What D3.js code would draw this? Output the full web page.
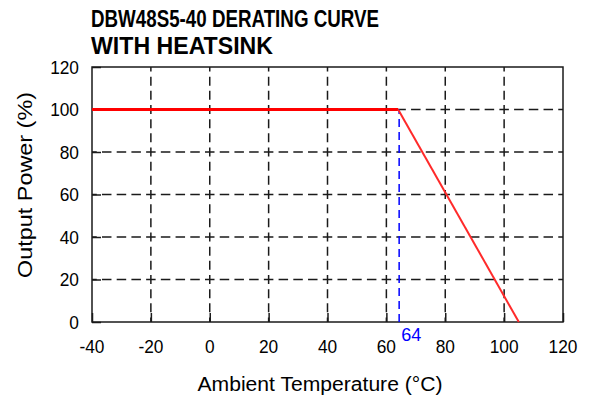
<!DOCTYPE html>
<html lang="en">
<head>
<meta charset="utf-8">
<title>DBW48S5-40 Derating Curve</title>
<script src="https://d3js.org/d3.v7.min.js"></script>
<style>
  body { margin: 0; background: #fff; }
  text { font-family: Arial, "Liberation Sans", sans-serif; }
</style>
</head>
<body>
<svg class="chart"></svg>

<script>
//data
var titleLines = ["DBW48S5-40 DERATING CURVE", "WITH HEATSINK"];
var xTicks = [-40, -20, 0, 20, 40, 60, 80, 100, 120];
var yTicks = [0, 20, 40, 60, 80, 100, 120];
var curveTemp = [-40, 64, 105];
var curvePower = [100, 100, 0];
var kneeTemp = 64;
var xLabel = "Ambient Temperature (°C)";
var yLabel = "Output Power (%)";

var width = 593;
var height = 398;
var plot = {left: 92, right: 563, top: 67, bottom: 322};

var svg = d3.select(".chart")
    .attr("width", width)
    .attr("height", height);

var x = d3.scaleLinear().domain([-40, 120]).range([plot.left, plot.right]);
var y = d3.scaleLinear().domain([0, 120]).range([plot.bottom, plot.top]);

//squeeze text horizontally, the source font is narrow
function squeeze(sel, k) {
  sel.each(function() {
    var w = this.getComputedTextLength();
    d3.select(this).attr("textLength", w * k).attr("lengthAdjust", "spacingAndGlyphs");
  });
}

//title
svg.selectAll(".title")
  .data(titleLines)
  .enter().append("text")
    .attr("class", "title")
    .attr("x", 91)
    .attr("y", function(d, i) { return 27 + i * 27; })
    .attr("font-size", "23px")
    .attr("font-weight", "bold")
    .attr("fill", "#000")
    .attr("textLength", function(d, i) { return i === 0 ? 288 : 182; })
    .attr("lengthAdjust", "spacingAndGlyphs")
    .text(function(d) { return d; });

//dashed grid, dashes centred on each crossing
var hCell = x(-20) - x(-40);
var vCell = y(0) - y(20);
var grid = svg.append("g").attr("class", "grid")
    .attr("stroke", "#1a1a1a").attr("stroke-width", 1.5);

grid.selectAll(".hgrid")
  .data(yTicks.slice(1, -1))
  .enter().append("line")
    .attr("x1", plot.left).attr("x2", plot.right)
    .attr("y1", function(d) { return y(d); })
    .attr("y2", function(d) { return y(d); })
    .attr("stroke-dasharray", "9.5," + (hCell / 4 - 9.5))
    .attr("stroke-dashoffset", 4.75);

grid.selectAll(".vgrid")
  .data(xTicks.slice(1, -1))
  .enter().append("line")
    .attr("x1", function(d) { return x(d); })
    .attr("x2", function(d) { return x(d); })
    .attr("y1", plot.bottom).attr("y2", plot.top)
    .attr("stroke-dasharray", "9," + (vCell / 3 - 9))
    .attr("stroke-dashoffset", 4.5);

//axes with inward ticks
svg.append("g")
    .attr("transform", "translate(0," + plot.bottom + ")")
    .call(d3.axisTop(x).tickValues(xTicks).tickSize(9).tickFormat(""));
svg.append("g")
    .attr("transform", "translate(" + plot.left + ",0)")
    .call(d3.axisRight(y).tickValues(yTicks).tickSize(9).tickFormat(""));
svg.selectAll(".domain").remove();
svg.selectAll(".tick line").attr("stroke", "#1a1a1a").attr("stroke-width", 1.5);

//tick labels
svg.selectAll(".xlab")
  .data(xTicks)
  .enter().append("text")
    .attr("class", "xlab")
    .attr("x", function(d) { return x(d); })
    .attr("y", 353)
    .attr("text-anchor", "middle")
    .attr("font-size", "19px")
    .attr("fill", "#000")
    .text(function(d) { return d; })
    .call(squeeze, 0.91);

svg.selectAll(".ylab")
  .data(yTicks)
  .enter().append("text")
    .attr("class", "ylab")
    .attr("x", 79)
    .attr("y", function(d) { return y(d); })
    .attr("dy", "0.36em")
    .attr("text-anchor", "end")
    .attr("font-size", "19px")
    .attr("fill", "#000")
    .text(function(d) { return d; })
    .call(squeeze, 0.91);

//frame
svg.append("rect")
    .attr("x", plot.left).attr("y", plot.top)
    .attr("width", plot.right - plot.left)
    .attr("height", plot.bottom - plot.top)
    .attr("fill", "none")
    .attr("stroke", "#1a1a1a")
    .attr("stroke-width", 1.5);

//knee marker
svg.append("line")
    .attr("x1", x(kneeTemp) + 1).attr("x2", x(kneeTemp) + 1)
    .attr("y1", y(0)).attr("y2", y(curvePower[1]))
    .attr("stroke", "#0000ff")
    .attr("stroke-width", 1.5)
    .attr("stroke-dasharray", "8,5");

svg.append("text")
    .attr("x", x(kneeTemp) + 3)
    .attr("y", 341)
    .attr("font-size", "19px")
    .attr("fill", "#0000ff")
    .text(kneeTemp)
    .call(squeeze, 0.95);

//derating curve: flat part thick, slope thinner
var pts = curveTemp.map(function(t, i) { return [x(t), y(curvePower[i])]; });
var line = d3.line();
svg.append("path")
    .attr("d", line(pts.slice(0, 2)))
    .attr("fill", "none")
    .attr("stroke", "#ff0000")
    .attr("stroke-width", 3);
svg.append("path")
    .attr("d", line(pts.slice(1)))
    .attr("fill", "none")
    .attr("stroke", "#ff2a2a")
    .attr("stroke-width", 2);

//axis titles
svg.append("text")
    .attr("x", 320)
    .attr("y", 391)
    .attr("text-anchor", "middle")
    .attr("font-size", "20px")
    .attr("fill", "#000")
    .attr("textLength", 245)
    .attr("lengthAdjust", "spacingAndGlyphs")
    .text(xLabel);

svg.append("text")
    .attr("transform", "translate(32,185) rotate(-90)")
    .attr("text-anchor", "middle")
    .attr("font-size", "20px")
    .attr("fill", "#000")
    .attr("textLength", 186)
    .attr("lengthAdjust", "spacingAndGlyphs")
    .text(yLabel);
</script>
</body>
</html>
